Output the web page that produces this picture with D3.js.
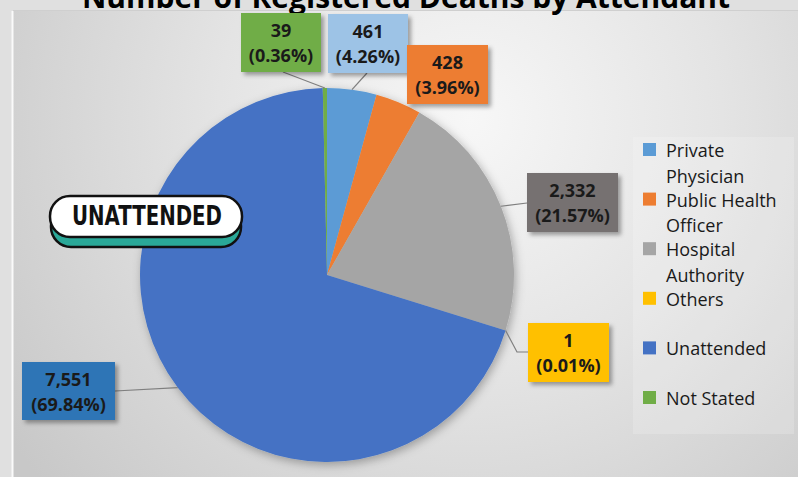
<!DOCTYPE html>
<html>
<head>
<meta charset="utf-8">
<script src="https://cdn.jsdelivr.net/npm/d3@7"></script>
<style>
  html, body { margin: 0; padding: 0; background: #dedede; }
  svg { display: block; }
</style>
</head>
<body>
<div id="chart"></div>
<script>
  const categories = ["Private Physician", "Public Health Officer", "Hospital Authority", "Others", "Unattended", "Not Stated"];
  const deaths = [461, 428, 2332, 1, 7551, 39];
  const titleText = "Number of Registered Deaths by Attendant";
  const stickerText = "UNATTENDED";

  // styles (kept apart from the data)
  const sliceColors = ["#5b9bd5", "#ed7d31", "#a5a5a5", "#ffc000", "#4472c4", "#70ad47"];
  const boxColors = ["#9dc3e6", "#ed7d31", "#767171", "#ffc000", "#2e75b6", "#70ad47"];

  // label box layout, one per slice (x, y, w, h, leader anchor)
  const boxLayout = [
    { x: 328, y: 14, w: 80, h: 59, ax: 367, ay: 73 },
    { x: 407, y: 45, w: 81, h: 59, ax: null, ay: null },
    { x: 527, y: 173, w: 91, h: 59, ax: 527, ay: 203 },
    { x: 528, y: 323, w: 81, h: 59, ax: 528, ay: 352, elbow: 517 },
    { x: 22, y: 362, w: 93, h: 58, ax: 115, ay: 391 },
    { x: 241, y: 13, w: 80, h: 59, ax: 283, ay: 72 }
  ];

  const width = 798;
  const height = 477;
  const cx = 327, cy = 275, radius = 187;

  const svg = d3.select("#chart")
    .append("svg")
    .attr("width", width)
    .attr("height", height);

  const defs = svg.append("defs");

  const bg = defs.append("radialGradient")
    .attr("id", "bg")
    .attr("gradientUnits", "userSpaceOnUse")
    .attr("cx", 470).attr("cy", 120).attr("r", 560);
  bg.append("stop").attr("offset", "0%").attr("stop-color", "#f7f7f7");
  bg.append("stop").attr("offset", "45%").attr("stop-color", "#e4e4e4");
  bg.append("stop").attr("offset", "100%").attr("stop-color", "#c8c8c8");

  const pieShadow = defs.append("filter").attr("id", "pieShadow")
    .attr("x", "-20%").attr("y", "-20%").attr("width", "140%").attr("height", "140%");
  pieShadow.append("feDropShadow")
    .attr("dx", 2).attr("dy", 3).attr("stdDeviation", 5)
    .attr("flood-color", "#000").attr("flood-opacity", 0.3);

  const boxShadow = defs.append("filter").attr("id", "boxShadow")
    .attr("x", "-20%").attr("y", "-20%").attr("width", "150%").attr("height", "150%");
  boxShadow.append("feDropShadow")
    .attr("dx", 3).attr("dy", 3).attr("stdDeviation", 2)
    .attr("flood-color", "#000").attr("flood-opacity", 0.35);

  // page + panel background
  svg.append("rect").attr("width", width).attr("height", height).attr("fill", "#e0e0e0");
  svg.append("rect")
    .attr("x", 13).attr("y", 11)
    .attr("width", width - 13).attr("height", height - 11)
    .attr("fill", "url(#bg)");
  svg.append("line")
    .attr("x1", 12.5).attr("x2", 12.5).attr("y1", 11).attr("y2", height)
    .attr("stroke", "#fafafa").attr("stroke-width", 2);
  svg.append("line")
    .attr("x1", 13).attr("x2", width).attr("y1", 10.5).attr("y2", 10.5)
    .attr("stroke", "#cfcfcf").attr("stroke-width", 1);

  // title, cut off by the top edge
  svg.append("text")
    .attr("x", 406).attr("y", 8)
    .attr("text-anchor", "middle")
    .attr("font-family", "'Open Sans', sans-serif")
    .attr("font-weight", "bold")
    .attr("font-size", 30)
    .attr("textLength", 648)
    .attr("lengthAdjust", "spacingAndGlyphs")
    .attr("fill", "#000")
    .text(titleText);

  // pie
  const pie = d3.pie().sort(null).value(d => d);
  const arcs = pie(deaths);
  const arc = d3.arc().innerRadius(0).outerRadius(radius);
  const total = d3.sum(deaths);
  const pct = d3.format(".2%");
  const num = d3.format(",");

  const pieG = svg.append("g")
    .attr("transform", `translate(${cx}, ${cy})`)
    .attr("filter", "url(#pieShadow)");
  pieG.selectAll("path")
    .data(arcs)
    .enter()
    .append("path")
    .attr("d", arc)
    .attr("fill", (d, i) => sliceColors[i]);

  // leader lines
  const leaders = svg.append("g")
    .attr("fill", "none")
    .attr("stroke", "#7f7f7f")
    .attr("stroke-width", 1.2);
  arcs.forEach(function (d, i) {
    const b = boxLayout[i];
    if (b.ax === null) return;
    const mid = (d.startAngle + d.endAngle) / 2;
    const px = cx + radius * Math.sin(mid);
    const py = cy - radius * Math.cos(mid);
    const p = d3.path();
    p.moveTo(px, py);
    if (b.elbow) p.lineTo(b.elbow, b.ay);
    p.lineTo(b.ax, b.ay);
    leaders.append("path").attr("d", p.toString());
  });

  // label boxes
  const labels = svg.append("g");
  arcs.forEach(function (d, i) {
    const b = boxLayout[i];
    const g = labels.append("g");
    g.append("rect")
      .attr("x", b.x).attr("y", b.y)
      .attr("width", b.w).attr("height", b.h)
      .attr("fill", boxColors[i])
      .attr("filter", "url(#boxShadow)");
    const t = g.append("text")
      .attr("text-anchor", "middle")
      .attr("font-family", "'Open Sans', sans-serif")
      .attr("font-weight", "bold")
      .attr("font-size", 18)
      .attr("fill", "#1a1a1a");
    t.append("tspan").attr("x", b.x + b.w / 2).attr("y", b.y + 24).text(num(d.data));
    t.append("tspan").attr("x", b.x + b.w / 2).attr("y", b.y + 49).text("(" + pct(d.data / total) + ")");
  });

  // legend
  const legend = svg.append("g");
  legend.append("rect")
    .attr("x", 633).attr("y", 137)
    .attr("width", 161).attr("height", 297)
    .attr("fill", "#ffffff").attr("fill-opacity", 0.18);

  const legendTop = 157, legendStep = 49.6, lineStep = 25.5;
  categories.forEach(function (name, i) {
    const y0 = legendTop + i * legendStep;
    legend.append("rect")
      .attr("x", 643).attr("y", y0 - 14)
      .attr("width", 13).attr("height", 13)
      .attr("fill", sliceColors[i]);
    const t = legend.append("text")
      .attr("font-family", "'Open Sans', sans-serif")
      .attr("font-size", 18)
      .attr("fill", "#1a1a1a");
    // wrap words to the legend width
    const words = name.split(" ");
    let line = [];
    let lineNo = 0;
    let ts = t.append("tspan").attr("x", 666).attr("y", y0);
    words.forEach(function (w) {
      line.push(w);
      ts.text(line.join(" "));
      if (ts.node().getComputedTextLength() > 125 && line.length > 1) {
        line.pop();
        ts.text(line.join(" "));
        line = [w];
        lineNo += 1;
        ts = t.append("tspan").attr("x", 666).attr("y", y0 + lineNo * lineStep).text(w);
      }
    });
  });

  // sticker
  const sticker = svg.append("g");
  sticker.append("rect")
    .attr("x", 51).attr("y", 206)
    .attr("width", 190).attr("height", 41)
    .attr("rx", 20)
    .attr("fill", "#2aa898")
    .attr("stroke", "#111").attr("stroke-width", 2.5);
  sticker.append("rect")
    .attr("x", 50).attr("y", 196)
    .attr("width", 192).attr("height", 41)
    .attr("rx", 20)
    .attr("fill", "#ffffff")
    .attr("stroke", "#111").attr("stroke-width", 2.5);
  sticker.append("text")
    .attr("x", 147).attr("y", 225)
    .attr("text-anchor", "middle")
    .attr("font-family", "'Liberation Sans Narrow', 'DejaVu Sans Condensed', sans-serif")
    .attr("font-weight", "bold")
    .attr("font-size", 27)
    .attr("textLength", 150)
    .attr("lengthAdjust", "spacingAndGlyphs")
    .attr("fill", "#111")
    .text(stickerText);
</script>
</body>
</html>
